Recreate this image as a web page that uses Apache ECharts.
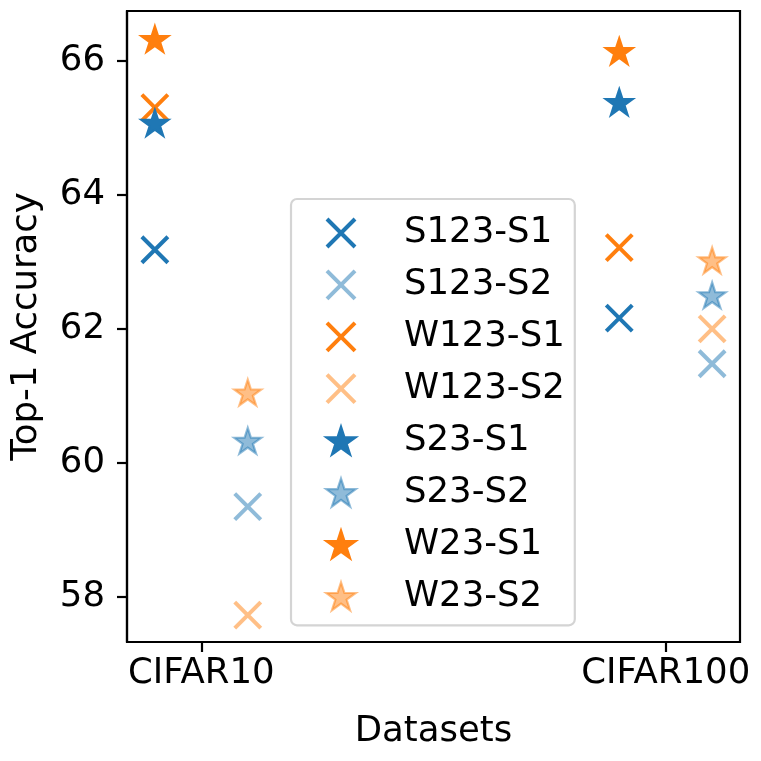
<!DOCTYPE html>
<html>
<head>
<meta charset="utf-8">
<script src="https://cdn.jsdelivr.net/npm/echarts@6/dist/echarts.min.js"></script>
<style>
  html, body { margin: 0; padding: 0; background: #fff; }
  #chart { width: 761px; height: 761px; }
</style>
</head>
<body>
<div id="chart"></div>
<script>
// data
var datasets = ['CIFAR10', 'CIFAR100'];
var yTicks = [58, 60, 62, 64, 66];
var s123S1 = [63.18, 62.16];
var s123S2 = [59.35, 61.48];
var w123S1 = [65.3, 63.21];
var w123S2 = [57.73, 62.0];
var s23S1 = [65.05, 65.36];
var s23S2 = [60.31, 62.48];
var w23S1 = [66.3, 66.12];
var w23S2 = [61.03, 63.0];

var BLUE = '#1f77b4', ORANGE = '#ff7f0e';
var BLUE_A = 'rgba(31,119,180,0.5)', ORANGE_A = 'rgba(255,127,14,0.5)';
var FONT = 'DejaVu Sans';
var FS = 35.5;

var crossPath = 'path://M0,0L10,10M10,0L0,10';
// five point star, same proportions as matplotlib '*'
var starPath = (function () {
    var pts = [];
    for (var k = 0; k < 10; k++) {
        var r = k % 2 === 0 ? 10 : 3.81966;
        var a = (-90 + k * 36) * Math.PI / 180;
        pts.push((10 + r * Math.cos(a)).toFixed(3) + ',' + (10 + r * Math.sin(a)).toFixed(3));
    }
    return 'path://M' + pts.join('L') + 'Z';
})();

function toPoints(values, shift) {
    return values.map(function (v, i) { return [i + shift, v]; });
}

function crossStyle(color) {
    return { color: 'rgba(0,0,0,0)', borderColor: color, borderWidth: 4, borderCap: 'butt', opacity: 1 };
}
function starStyle(color) {
    return { color: color, borderColor: color, borderWidth: 2.2, borderJoin: 'miter', opacity: 1 };
}

function crossSeries(name, values, shift, color) {
    return {
        name: name, type: 'scatter',
        data: toPoints(values, shift),
        symbol: crossPath, symbolSize: 26,
        itemStyle: crossStyle(color),
        emphasis: { disabled: true }
    };
}

function starSeries(name, values, shift, color) {
    return {
        name: name, type: 'scatter',
        data: toPoints(values, shift),
        symbol: starPath, symbolSize: [27, 25.7], symbolOffset: [0, -1.4],
        itemStyle: starStyle(color),
        emphasis: { disabled: true }
    };
}

var chart = echarts.init(document.getElementById('chart'));

var option = {
    animation: false,
    backgroundColor: '#fff',
    textStyle: { fontFamily: FONT },
    grid: {
        left: 127, right: 21, top: 11, bottom: 119,
        show: true, borderColor: '#000', borderWidth: 2.2, backgroundColor: 'transparent'
    },
    legend: {
        orient: 'vertical',
        left: 291, top: 199,
        padding: [16, 10, 11, 34],
        itemWidth: 30, itemHeight: 28, itemGap: 15.9,
        backgroundColor: 'rgba(255,255,255,0.8)',
        borderColor: '#d4d4d4', borderWidth: 2.2, borderRadius: 6,
        textStyle: { fontFamily: FONT, fontSize: FS, color: '#000', lineHeight: FS, padding: [0, 0, 0, 43] },
        data: [
            { name: 'S123-S1', itemStyle: crossStyle(BLUE) },
            { name: 'S123-S2', itemStyle: crossStyle(BLUE_A) },
            { name: 'W123-S1', itemStyle: crossStyle(ORANGE) },
            { name: 'W123-S2', itemStyle: crossStyle(ORANGE_A) },
            { name: 'S23-S1', itemStyle: starStyle(BLUE) },
            { name: 'S23-S2', itemStyle: starStyle(BLUE_A) },
            { name: 'W23-S1', itemStyle: starStyle(ORANGE) },
            { name: 'W23-S2', itemStyle: starStyle(ORANGE_A) }
        ]
    },
    xAxis: {
        type: 'value', min: -0.16, max: 1.16,
        name: 'Datasets', nameLocation: 'middle', nameGap: 72,
        nameTextStyle: { fontFamily: FONT, fontSize: FS, color: '#000' },
        axisLine: { show: true, onZero: false, lineStyle: { color: '#000', width: 2.2 } },
        axisTick: { show: true, customValues: [0, 1], length: 10, lineStyle: { color: '#000', width: 2.2 } },
        axisLabel: {
            customValues: [0, 1], margin: 14,
            fontFamily: FONT, fontSize: FS, color: '#000',
            formatter: function (v) { return datasets[Math.round(v)]; }
        },
        splitLine: { show: false }
    },
    yAxis: {
        type: 'value', min: 57.33, max: 66.74,
        name: 'Top-1 Accuracy', nameLocation: 'middle', nameGap: 82,
        nameTextStyle: { fontFamily: FONT, fontSize: FS, color: '#000' },
        axisLine: { show: true, onZero: false, lineStyle: { color: '#000', width: 2.2 } },
        axisTick: { show: true, customValues: yTicks, length: 10, lineStyle: { color: '#000', width: 2.2 } },
        axisLabel: { customValues: yTicks, margin: 22, fontFamily: FONT, fontSize: FS, color: '#000' },
        splitLine: { show: false }
    },
    series: [
        crossSeries('S123-S1', s123S1, -0.1, BLUE),
        crossSeries('S123-S2', s123S2, 0.1, BLUE_A),
        crossSeries('W123-S1', w123S1, -0.1, ORANGE),
        crossSeries('W123-S2', w123S2, 0.1, ORANGE_A),
        starSeries('S23-S1', s23S1, -0.1, BLUE),
        starSeries('S23-S2', s23S2, 0.1, BLUE_A),
        starSeries('W23-S1', w23S1, -0.1, ORANGE),
        starSeries('W23-S2', w23S2, 0.1, ORANGE_A)
    ]
};

chart.setOption(option);
</script>
</body>
</html>
